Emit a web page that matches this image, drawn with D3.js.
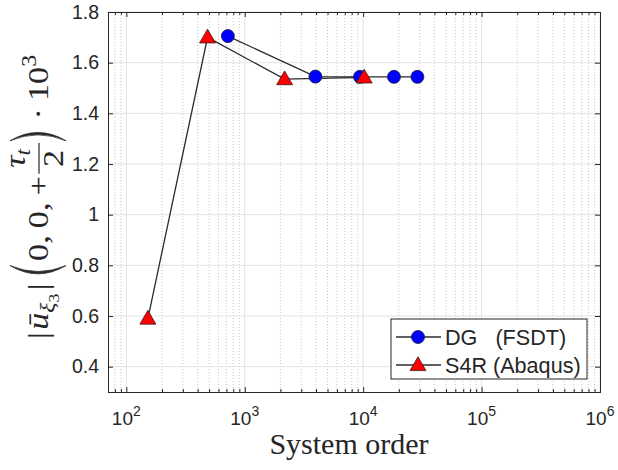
<!DOCTYPE html>
<html lang="en">

<head>
    <meta charset="UTF-8" />
    <script src="https://d3js.org/d3.v7.min.js"></script>
    <title>System order</title>
    <style>
        body { margin: 0; background: #fff; }
    </style>
</head>

<body>
    <script>
        const width = 618,
            height = 470

        // data
        const dgOrder = [720, 3950, 9400, 18200, 28700]
        const dgValue = [1.705, 1.545, 1.544, 1.544, 1.544]
        const s4rOrder = [152, 485, 2170, 10200]
        const s4rValue = [0.59, 1.70, 1.535, 1.542]
        const xTicks = [1e2, 1e3, 1e4, 1e5, 1e6]
        const yTicks = [0.4, 0.6, 0.8, 1, 1.2, 1.4, 1.6, 1.8]
        const legendLabels = ['DG   (FSDT)', 'S4R (Abaqus)']

        const pLeft = 108, pRight = 600, pTop = 12, pBottom = 392
        const ink = '#262626'

        const svg = d3.select('body').append('svg').attr('width', width).attr('height', height)
            .style('font-family', '"Liberation Sans", Arial, sans-serif')

        const x = d3.scaleLog().domain([70, 1e6]).range([pLeft, pRight])
        const y = d3.scaleLinear().domain([0.3, 1.8]).range([pBottom, pTop])

        // minor x values 2..9 per decade
        const minorX = []
        for (let e = 1; e < 6; e++) {
            for (let k = 2; k <= 9; k++) {
                const v = k * Math.pow(10, e)
                if (v > 70 && v < 1e6) minorX.push(v)
            }
        }

        //grid
        svg.append('g').selectAll('line').data(minorX).enter().append('line')
            .attr('x1', d => x(d)).attr('x2', d => x(d)).attr('y1', pTop).attr('y2', pBottom)
            .attr('stroke', '#c8c8c8').attr('stroke-width', 1).attr('stroke-dasharray', '1,2')
        svg.append('g').selectAll('line').data(xTicks).enter().append('line')
            .attr('x1', d => x(d)).attr('x2', d => x(d)).attr('y1', pTop).attr('y2', pBottom)
            .attr('stroke', '#e3e3e3').attr('stroke-width', 1)
        svg.append('g').selectAll('line').data(yTicks).enter().append('line')
            .attr('x1', pLeft).attr('x2', pRight).attr('y1', d => y(d)).attr('y2', d => y(d))
            .attr('stroke', '#e3e3e3').attr('stroke-width', 1)

        //axes (ticks inside, box)
        svg.append('g').attr('transform', `translate(0,${pBottom})`)
            .call(d3.axisBottom(x).tickValues(xTicks).tickSize(-5).tickFormat(''))
        svg.append('g').attr('transform', `translate(0,${pBottom})`)
            .call(d3.axisBottom(x).tickValues(minorX).tickSize(-3).tickFormat(''))
        svg.append('g').attr('transform', `translate(0,${pTop})`)
            .call(d3.axisTop(x).tickValues(xTicks).tickSize(-5).tickFormat(''))
        svg.append('g').attr('transform', `translate(0,${pTop})`)
            .call(d3.axisTop(x).tickValues(minorX).tickSize(-3).tickFormat(''))
        svg.append('g').attr('transform', `translate(${pLeft},0)`)
            .call(d3.axisLeft(y).tickValues(yTicks).tickSize(-5).tickFormat(d3.format('')))
        svg.append('g').attr('transform', `translate(${pRight},0)`)
            .call(d3.axisRight(y).tickValues(yTicks).tickSize(-5).tickFormat(''))
        svg.selectAll('.domain').attr('stroke', ink)
        svg.selectAll('.tick line').attr('stroke', ink)
        svg.selectAll('.tick text').attr('fill', ink).style('font-size', '19.5px')
            .style('font-family', '"Liberation Sans", Arial, sans-serif')

        // y labels right aligned a bit off the axis
        svg.selectAll('.tick text').filter(function () { return this.textContent !== '' })
            .attr('x', -9)

        // x tick labels as 10^n
        const xl = svg.append('g').selectAll('text').data(xTicks).enter().append('text')
            .attr('x', d => x(d)).attr('y', 425).attr('text-anchor', 'middle')
            .attr('fill', ink).style('font-size', '19px')
        xl.append('tspan').text('10')
        xl.append('tspan').attr('dy', -9).style('font-size', '14px').text(d => Math.round(Math.log10(d)))

        //lines
        const line = d3.line().x(d => x(d[0])).y(d => y(d[1]))
        const dg = d3.zip(dgOrder, dgValue)
        const s4r = d3.zip(s4rOrder, s4rValue)
        svg.append('path').datum(dg).attr('d', line).attr('fill', 'none').attr('stroke', '#2b2b2b').attr('stroke-width', 1.3)
        svg.append('path').datum(s4r).attr('d', line).attr('fill', 'none').attr('stroke', '#2b2b2b').attr('stroke-width', 1.3)

        const tri = d3.symbol().type(d3.symbolTriangle).size(110)
        function circleMark(sel) {
            sel.attr('r', 6.5).attr('fill', '#0000ff').attr('stroke', '#1a1a3a').attr('stroke-width', 0.8)
        }
        function triMark(sel) {
            sel.attr('d', tri).attr('fill', '#ff0000').attr('stroke', '#3a1a1a').attr('stroke-width', 0.8)
        }
        svg.append('g').selectAll('circle').data(dg).enter().append('circle')
            .attr('cx', d => x(d[0])).attr('cy', d => y(d[1])).call(circleMark)
        svg.append('g').selectAll('path').data(s4r).enter().append('path')
            .attr('transform', d => `translate(${x(d[0])},${y(d[1]) + 1})`).call(triMark)

        //legend
        const lg = svg.append('g')
        lg.append('rect').attr('x', 391).attr('y', 319).attr('width', 196).attr('height', 60)
            .attr('fill', '#fff').attr('stroke', ink).attr('stroke-width', 1)
        legendLabels.forEach((lab, i) => {
            const cy = 337 + i * 28
            lg.append('line').attr('x1', 396).attr('x2', 441).attr('y1', cy).attr('y2', cy)
                .attr('stroke', '#2b2b2b').attr('stroke-width', 1.3)
            if (i === 0) lg.append('circle').attr('cx', 418).attr('cy', cy).call(circleMark)
            else lg.append('path').attr('transform', `translate(418,${cy + 1})`).call(triMark)
            lg.append('text').attr('x', 445).attr('y', cy + 7.5).attr('fill', ink)
                .style('font-size', '21.6px').style('white-space', 'pre').text(lab)
        })

        //x label
        svg.append('text').attr('x', 349).attr('y', 454).attr('text-anchor', 'middle')
            .attr('fill', ink).style('font-family', '"Liberation Serif", serif').style('font-size', '30px')
            .text('System order')

        //y label: |u_xi3| (0,0,+tau_t/2) . 10^3
        const yg = svg.append('g').attr('fill', ink).style('font-family', '"Liberation Serif", serif')
        let cur = 0
        function put(str, size, dy, italic, gap) {
            const t = yg.append('text').attr('x', cur).attr('y', dy).style('font-size', size + 'px')
                .style('font-style', italic ? 'italic' : 'normal').style('white-space', 'pre').text(str)
            cur += t.node().getComputedTextLength() + (gap || 0)
            return t
        }
        function paren(open) {
            const w = 9
            const a = open ? cur + w : cur
            const b = open ? cur - 5 : cur + w + 5
            const c = open ? cur - 1 : cur + w + 1
            yg.append('path').attr('d', `M${a},-38 Q${b},-10 ${a},18 Q${c},-10 ${a},-38 Z`)
                .attr('fill', ink).attr('stroke', ink).attr('stroke-width', 0.7)
            cur += w + 4
        }
        put('|', 29, 0, false, 2)
        put('ū', 29, 0, true, 0)
        put('ξ', 20, 7, true, 0)
        put('3', 15, 11, false, 3)
        put('|', 29, 0, false, 6)
        paren(true)
        put('0,', 29, 0, false, 6)
        put('0,', 29, 0, false, 6)
        put('+', 29, 0, false, 2)
        const f0 = cur
        const num = []
        num.push(put('τ', 29, -23, true, 0))
        num.push(put('t', 20, -18, true, 0))
        const numW = cur - f0
        const t2 = yg.append('text').attr('y', 15).style('font-size', '29px').text('2')
        const denW = t2.node().getComputedTextLength()
        const fw = Math.max(numW, denW) + 10
        num.forEach(t => t.attr('x', +t.attr('x') + (fw - numW) / 2))
        t2.attr('x', f0 + (fw - denW) / 2)
        yg.append('line').attr('x1', f0).attr('x2', f0 + fw).attr('y1', -9).attr('y2', -9)
            .attr('stroke', ink).attr('stroke-width', 1.2)
        cur = f0 + fw + 2
        paren(false)
        cur += 5
        put('·', 29, 0, false, 6)
        put('10', 29, 0, false, 0)
        put('3', 20, -12, false, 0)
        const total = cur
        const sx = 284 / total
        yg.attr('transform', `translate(48,339) rotate(-90) scale(${sx},1)`)
    </script>
</body>

</html>
